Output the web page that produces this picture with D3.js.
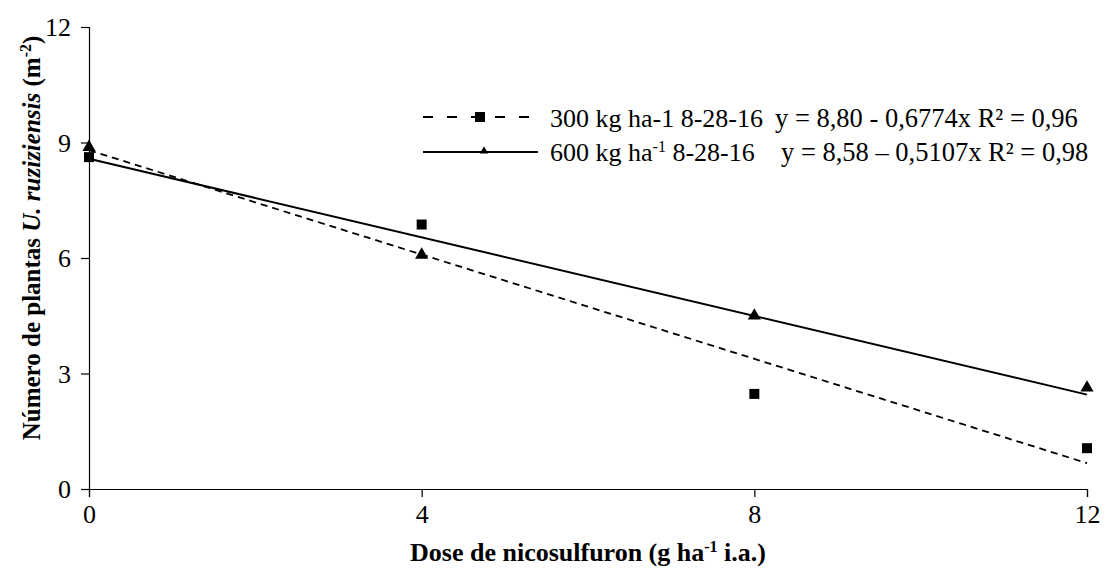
<!DOCTYPE html>
<html>
<head>
<meta charset="utf-8">
<script src="https://cdn.jsdelivr.net/npm/d3@7"></script>
<style>
  body { margin: 0; background: #fff; }
  svg text { font-family: "Liberation Serif", "DejaVu Serif", serif !important; fill: #000; }
</style>
</head>
<body>
<div id="chart"></div>
<script>
// doses of nicosulfuron (g ha-1 i.a.)
const doses = [0, 4, 8, 12];
// observed plants per m2
const obs300 = [8.62, 6.87, 2.47, 1.06];
const obs600 = [8.88, 6.08, 4.50, 2.63];
// linear fits  y = a + b x
const fit300 = { a: 8.80, b: -0.6774 };
const fit600 = { a: 8.58, b: -0.5107 };
const xTicks = [0, 4, 8, 12];
const yTicks = [0, 3, 6, 9, 12];

const margin = { top: 27, right: 18, bottom: 83, left: 89 };
const W = 1105, H = 572;
const width = W - margin.left - margin.right;
const height = H - margin.top - margin.bottom;

const svg = d3.select("#chart").append("svg")
  .attr("width", W).attr("height", H);
const g = svg.append("g").attr("transform", `translate(${margin.left},${margin.top})`);

const x = d3.scaleLinear().domain([0, 12]).range([0, width]);
const y = d3.scaleLinear().domain([0, 12]).range([height, 0]);

// axes
const xAxis = g.append("g").attr("transform", `translate(0,${height})`)
  .call(d3.axisBottom(x).tickValues(xTicks).tickSize(8).tickPadding(8));
const yAxis = g.append("g")
  .call(d3.axisLeft(y).tickValues(yTicks).tickSize(8).tickPadding(10));
[xAxis, yAxis].forEach(a => {
  a.attr("font-family", null).attr("font-size", null);
  a.select(".domain").attr("stroke", "#000").attr("stroke-width", 1.2);
  a.selectAll(".tick line").attr("stroke", "#000").attr("stroke-width", 1.2);
  a.selectAll("text").style("font-size", "26px");
});
yAxis.selectAll("text").attr("dy", "0.34em");

// trend lines
const line = d3.line().x(d => x(d[0])).y(d => y(d[1]));
g.append("path")
  .datum([0, 12].map(v => [v, fit300.a + fit300.b * v]))
  .attr("d", line).attr("fill", "none").attr("stroke", "#000")
  .attr("stroke-width", 1.8).attr("stroke-dasharray", "7,5");
g.append("path")
  .datum([0, 12].map(v => [v, fit600.a + fit600.b * v]))
  .attr("d", line).attr("fill", "none").attr("stroke", "#000")
  .attr("stroke-width", 2);

// markers
const sq = d3.symbol().type(d3.symbolSquare).size(100);
const tri = d3.symbol().type(d3.symbolTriangle).size(75);
g.selectAll(".p300").data(doses).join("path")
  .attr("d", sq).attr("fill", "#000")
  .attr("transform", (d, i) => `translate(${x(d)},${y(obs300[i])})`);
g.selectAll(".p600").data(doses).join("path")
  .attr("d", tri).attr("fill", "#000")
  .attr("transform", (d, i) => `translate(${x(d)},${y(obs600[i])})`);

// legend
const leg = svg.append("g");
leg.append("line").attr("x1", 423).attr("x2", 538).attr("y1", 117).attr("y2", 117)
  .attr("stroke", "#000").attr("stroke-width", 2).attr("stroke-dasharray", "10,14");
leg.append("path").attr("d", sq).attr("fill", "#000").attr("transform", "translate(480,117)");
leg.append("line").attr("x1", 423).attr("x2", 538).attr("y1", 152).attr("y2", 152)
  .attr("stroke", "#000").attr("stroke-width", 2);
leg.append("path").attr("d", d3.symbol().type(d3.symbolTriangle).size(30))
  .attr("fill", "#000").attr("transform", "translate(484,151)");

leg.append("text").attr("x", 550).attr("y", 127).style("font-size", "26px")
  .text("300 kg ha-1 8-28-16");
leg.append("text").attr("x", 775).attr("y", 127).style("font-size", "26.5px")
  .text("y = 8,80 - 0,6774x R² = 0,96");
const t2 = leg.append("text").attr("x", 550).attr("y", 161).style("font-size", "26px");
t2.append("tspan").text("600 kg ha");
t2.append("tspan").attr("dy", -9).style("font-size", "16px").text("-1");
t2.append("tspan").attr("dy", 9).text(" 8-28-16");
leg.append("text").attr("x", 781).attr("y", 161).style("font-size", "26.5px")
  .text("y = 8,58 – 0,5107x R² = 0,98");

// axis titles
const xt = svg.append("text").attr("x", margin.left + width / 2).attr("y", 561)
  .attr("text-anchor", "middle").style("font-size", "26px").style("font-weight", "bold");
xt.append("tspan").text("Dose de nicosulfuron (g ha");
xt.append("tspan").attr("dy", -9).style("font-size", "16px").text("-1");
xt.append("tspan").attr("dy", 9).text(" i.a.)");

const yt = svg.append("text")
  .attr("transform", `translate(40,${margin.top + height / 2 - 20}) rotate(-90)`)
  .attr("text-anchor", "middle").style("font-size", "25px").style("font-weight", "bold");
yt.append("tspan").text("Número de plantas ");
yt.append("tspan").style("font-style", "italic").text("U. ruziziensis");
yt.append("tspan").text(" (m");
yt.append("tspan").attr("dy", -9).style("font-size", "16px").text("-2");
yt.append("tspan").attr("dy", 9).text(")");
</script>
</body>
</html>
